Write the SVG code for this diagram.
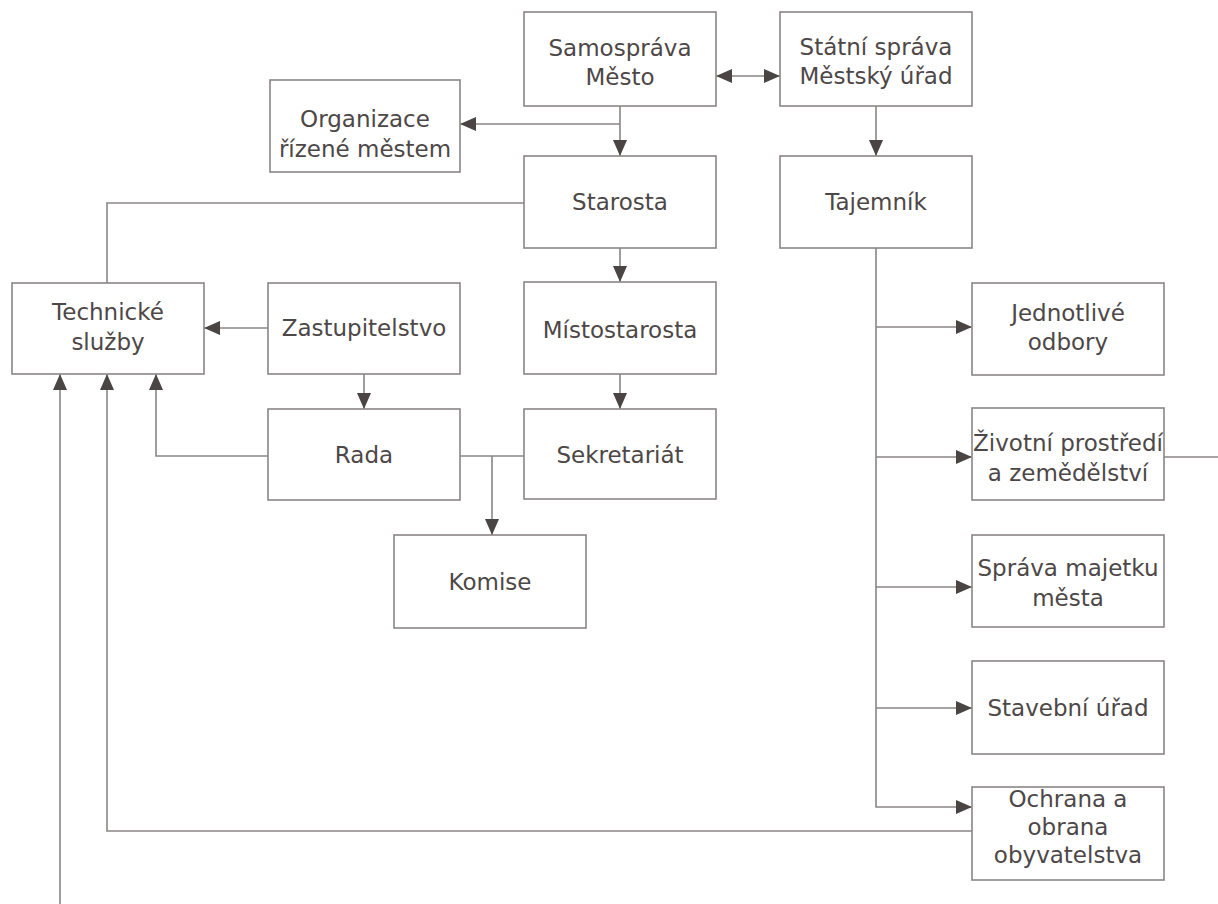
<svg xmlns="http://www.w3.org/2000/svg" width="1218" height="904" viewBox="0 0 1218 904">
<style>
.box{fill:#ffffff;stroke:#8c8686;stroke-width:1.6}
.t{font-family:"DejaVu Sans",sans-serif;font-size:23px;fill:#4d4747;text-anchor:middle}
.c{fill:none;stroke:#8c8686;stroke-width:1.6}
.a{marker-end:url(#ah)}
</style>
<defs>
<marker id="ah" viewBox="0 0 16 14" refX="16" refY="7" markerWidth="16" markerHeight="14" markerUnits="userSpaceOnUse" orient="auto-start-reverse">
<path d="M0,0 L16,7 L0,14 Z" fill="#4a4444"/>
</marker>
</defs>
<rect width="1218" height="904" fill="#ffffff"/>
<g id="connectors">
<path class="c a" d="M620,106 V156"/>
<path class="c a" d="M620,124 H460"/>
<path class="c a" d="M716,76 H780" marker-start="url(#ah)"/>
<path class="c a" d="M876,106 V156"/>
<path class="c" d="M524,203 H107 V283"/>
<path class="c a" d="M620,248 V282"/>
<path class="c a" d="M620,374 V409"/>
<path class="c a" d="M268,328 H204"/>
<path class="c a" d="M364,374 V409"/>
<path class="c a" d="M268,456 H156 V374"/>
<path class="c" d="M460,456 H524"/>
<path class="c a" d="M492,456 V535"/>
<path class="c a" d="M876,248 V807 H972"/>
<path class="c a" d="M876,327 H972"/>
<path class="c a" d="M876,457 H972"/>
<path class="c a" d="M876,587 H972"/>
<path class="c a" d="M876,708 H972"/>
<path class="c" d="M1164,457 H1218"/>
<path class="c a" d="M972,831 H107 V374"/>
<path class="c a" d="M60,904 V374"/>
</g>
<g id="samosprava"><rect class="box" x="524" y="12" width="192" height="94"/><text class="t" x="620" y="56">Samospráva</text><text class="t" x="620" y="85">Město</text></g>
<g id="statni-sprava"><rect class="box" x="780" y="12" width="192" height="94"/><text class="t" x="876" y="55">Státní správa</text><text class="t" x="876" y="84">Městský úřad</text></g>
<g id="organizace"><rect class="box" x="270" y="80" width="190" height="92"/><text class="t" x="365" y="127">Organizace</text><text class="t" x="365" y="157">řízené městem</text></g>
<g id="starosta"><rect class="box" x="524" y="156" width="192" height="92"/><text class="t" x="620" y="210">Starosta</text></g>
<g id="tajemnik"><rect class="box" x="780" y="156" width="192" height="92"/><text class="t" x="876" y="210">Tajemník</text></g>
<g id="technicke-sluzby"><rect class="box" x="12" y="283" width="192" height="91"/><text class="t" x="108" y="320">Technické</text><text class="t" x="108" y="350">služby</text></g>
<g id="zastupitelstvo"><rect class="box" x="268" y="283" width="192" height="91"/><text class="t" x="364" y="336">Zastupitelstvo</text></g>
<g id="mistostarosta"><rect class="box" x="524" y="282" width="192" height="92"/><text class="t" x="620" y="338">Místostarosta</text></g>
<g id="jednotlive-odbory"><rect class="box" x="972" y="283" width="192" height="92"/><text class="t" x="1068" y="321">Jednotlivé</text><text class="t" x="1068" y="350">odbory</text></g>
<g id="rada"><rect class="box" x="268" y="409" width="192" height="91"/><text class="t" x="364" y="463">Rada</text></g>
<g id="sekretariat"><rect class="box" x="524" y="409" width="192" height="90"/><text class="t" x="620" y="463">Sekretariát</text></g>
<g id="zivotni-prostredi"><rect class="box" x="972" y="408" width="192" height="92"/><text class="t" x="1068" y="451">Životní prostředí</text><text class="t" x="1068" y="481">a zemědělství</text></g>
<g id="komise"><rect class="box" x="394" y="535" width="192" height="93"/><text class="t" x="490" y="590">Komise</text></g>
<g id="sprava-majetku"><rect class="box" x="972" y="535" width="192" height="92"/><text class="t" x="1068" y="576">Správa majetku</text><text class="t" x="1068" y="606">města</text></g>
<g id="stavebni-urad"><rect class="box" x="972" y="661" width="192" height="93"/><text class="t" x="1068" y="716">Stavební úřad</text></g>
<g id="ochrana"><rect class="box" x="972" y="787" width="192" height="93"/><text class="t" x="1068" y="807">Ochrana a</text><text class="t" x="1068" y="835">obrana</text><text class="t" x="1068" y="863">obyvatelstva</text></g>
</svg>
